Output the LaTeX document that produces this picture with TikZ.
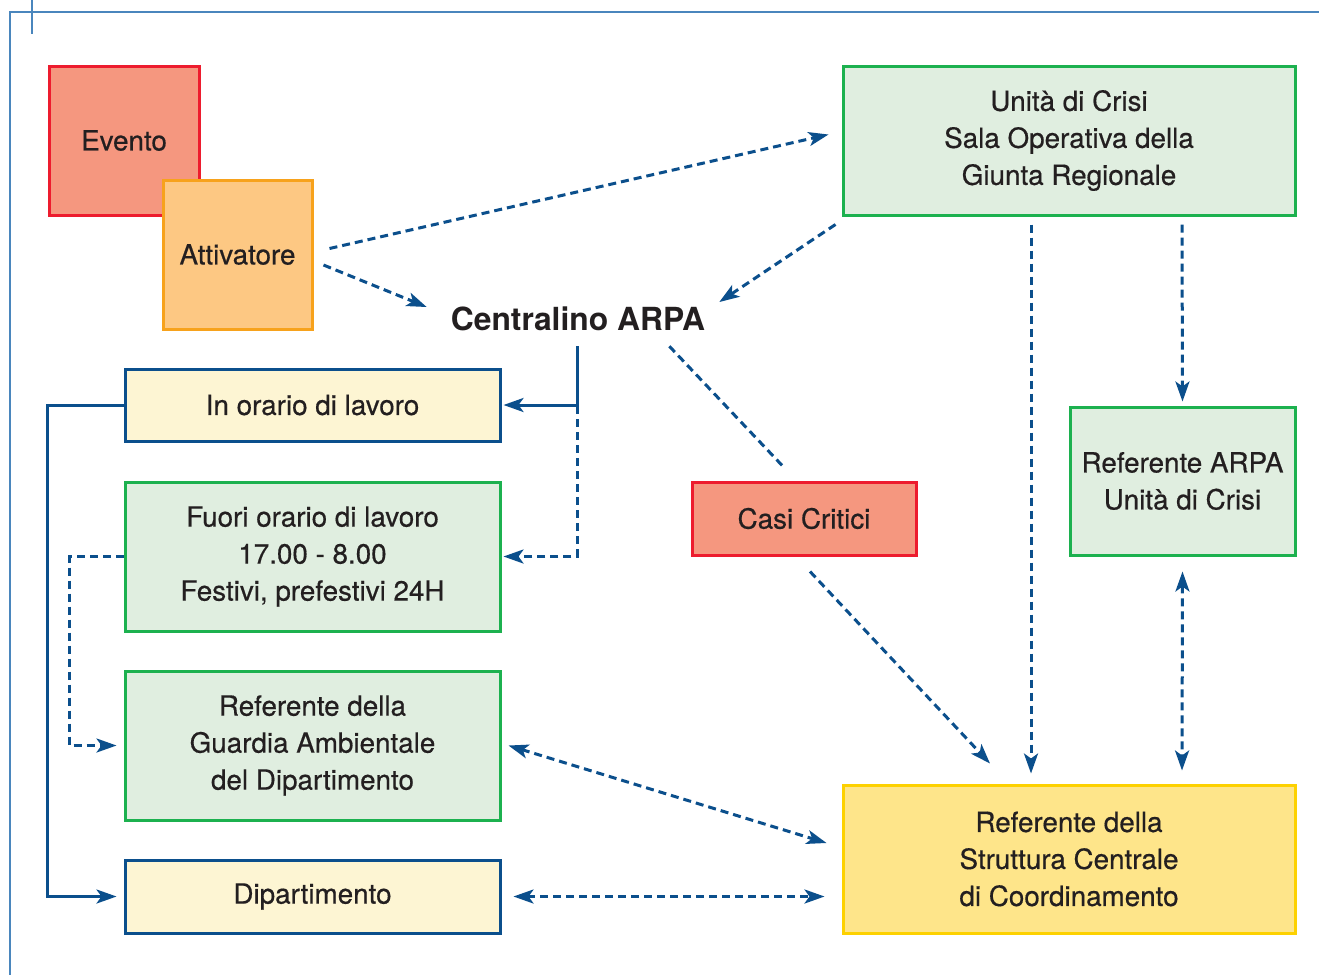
\documentclass[tikz,border=0pt]{standalone}
\usepackage{fontspec}
\setmainfont{TeX Gyre Heros}
\newfontfamily\boxfont{TeX Gyre Heros}[FakeBold=0.5]
\usetikzlibrary{arrows.meta,calc}
\definecolor{salmonf}{HTML}{F5977F}
\definecolor{redb}{HTML}{ED1C2E}
\definecolor{orangef}{HTML}{FDC883}
\definecolor{orangeb}{HTML}{F7A21C}
\definecolor{greenf}{HTML}{E0EEE0}
\definecolor{greenb}{HTML}{1CB14F}
\definecolor{creamf}{HTML}{FDF5D3}
\definecolor{blueb}{HTML}{0B4F8C}
\definecolor{goldf}{HTML}{FEE58A}
\definecolor{goldb}{HTML}{FDD100}
\definecolor{framec}{HTML}{4A86BD}
\definecolor{txt}{HTML}{231F20}
\begin{document}
\begin{tikzpicture}[x=1pt,y=-1pt,
  box/.style={draw, line width=3pt, inner sep=0pt, align=center, text=txt,
    font=\boxfont\fontsize{27.8}{37}\selectfont},
  redbox/.style={box, fill=salmonf, draw=redb},
  orangebox/.style={box, fill=orangef, draw=orangeb},
  greenbox/.style={box, fill=greenf, draw=greenb},
  creambox/.style={box, fill=creamf, draw=blueb},
  goldbox/.style={box, fill=goldf, draw=goldb},
  conn/.style={draw=blueb, line width=3pt},
  dl/.style={conn, dash pattern=on 8pt off 5pt},
  tip/.style={-{Stealth[length=20pt,width=14pt,inset=5pt]}},
  btip/.style={{Stealth[length=20pt,width=14pt,inset=5pt]}-{Stealth[length=20pt,width=14pt,inset=5pt]}},
  framel/.style={draw=framec, line width=1.6pt}
]
\useasboundingbox (0,0) rectangle (1319,975);
\fill[white] (0,0) rectangle (1319,975);
% frame
\coordinate (fc) at (10,12);
\coordinate (fr) at (1319,12);
\coordinate (fb) at (10,975);
\coordinate (tk1) at (32,0);
\coordinate (tk2) at (32,34);
\draw[framel] (fr) -- (fc) -- (fb);
\draw[framel] (tk1) -- (tk2);

% nodes
\node[redbox, minimum width=150pt, minimum height=149pt] (evento) at (124,140.5) {Evento};
\node[orangebox, minimum width=149pt, minimum height=149pt] (attiv) at (237.5,254.5) {Attivatore};
\node[greenbox, minimum width=452pt, minimum height=149pt] (unita) at (1069,140.5)
  {Unità di Crisi\\Sala Operativa della\\Giunta Regionale};
\node[inner sep=0pt, text=txt, font=\fontsize{31.8}{37}\selectfont\bfseries] (centr) at (578,319) {Centralino ARPA};
\node[creambox, minimum width=375pt, minimum height=72pt] (inorario) at (312.5,405) {In orario di lavoro};
\node[greenbox, minimum width=375pt, minimum height=149pt] (fuori) at (312.5,556.5)
  {Fuori orario di lavoro\\17.00 - 8.00\\Festivi, prefestivi 24H};
\node[greenbox, minimum width=375pt, minimum height=149pt] (guard) at (312.5,745.5)
  {Referente della\\Guardia Ambientale\\del Dipartimento};
\node[creambox, minimum width=375pt, minimum height=73pt] (dip) at (312.5,896.5) {Dipartimento};
\node[redbox, minimum width=224pt, minimum height=73pt] (casi) at (804,518.5) {Casi Critici};
\node[greenbox, minimum width=225pt, minimum height=148pt] (refarpa) at (1182.5,481)
  {Referente ARPA\\Unità di Crisi};
\node[goldbox, minimum width=452pt, minimum height=148pt] (strutt) at (1069,859)
  {Referente della\\Struttura Centrale\\di Coordinamento};

% connectors
\draw[dl,tip] ($(attiv.east)+(16,-6)$) -- ($(unita.west)+(-13,-6)$);
\draw[dl,tip] ($(attiv.east)+(10,10.5)$) -- ($(centr.west)+(-24,-12)$);
\draw[dl,tip] ($(unita.south west)+(-6,8)$) -- ($(centr.east)+(14,-17)$);
\draw[dl,tip] ($(centr.south)+(-1,75)$) |- ($(fuori.east)+(2,0)$);
\draw[conn,tip] ($(centr.south)+(-1,15)$) |- ($(inorario.east)+(2,0)$);
\draw[dl] ($(centr.south east)+(-36,15)$) -- ($(casi.north)+(-19,-12)$);
\draw[dl,tip] ($(casi.south)+(6,15)$) -- ($(strutt.north)+(-79,-20)$);
\draw[dl,tip] ($(unita.south)+(-38,8)$) -- ($(strutt.north)+(-38,-10)$);
\draw[dl,tip] ($(unita.south)+(113,8)$) -- ($(refarpa.north)+(0,-4)$);
\draw[dl,btip] ($(refarpa.south)+(0,15)$) -- ($(strutt.north)+(113,-13)$);
\draw[dl,btip] ($(guard.east)+(7,0)$) -- ($(strutt.west)+(-15,-16)$);
\draw[dl,btip] ($(dip.east)+(12,0)$) -- ($(strutt.west |- dip.east)+(-17,0)$);
\draw[conn,tip] (inorario.west) -- ++(-76,0) |- ($(dip.west)+(-7,0)$);
\draw[dl,tip] (fuori.west) -- ++(-54,0) |- ($(guard.west)+(-7,0)$);
\end{tikzpicture}
\end{document}
